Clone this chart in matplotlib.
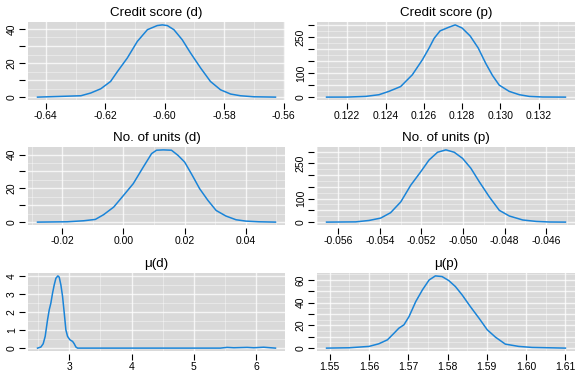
import numpy as np
import matplotlib
matplotlib.use('Agg')
import matplotlib.pyplot as plt
from matplotlib.ticker import FixedLocator, FixedFormatter, MultipleLocator

plt.rcParams['font.family'] = ['Liberation Sans', 'DejaVu Sans']
plt.rcParams['axes.unicode_minus'] = False

# posterior density curves
credit_d_x = [-0.6428, -0.6282, -0.6249, -0.6215, -0.6182, -0.6159, -0.6126, -0.6092, -0.6058, -0.6025,
              -0.6008, -0.5991, -0.5969, -0.5941, -0.5913, -0.5879, -0.5846, -0.5812, -0.5778, -0.5745,
              -0.5700, -0.5627]
credit_d_y = [0, 0.8, 2.4, 4.9, 9.2, 15.0, 22.9, 32.7, 39.6, 42.0,
              42.4, 42.0, 39.6, 33.7, 25.9, 17.1, 9.2, 4.3, 1.8, 0.8,
              0.2, 0]

credit_p_x = [0.12092, 0.1220, 0.12296, 0.12366, 0.12418, 0.12479, 0.1254, 0.12593, 0.12628, 0.12654,
              0.12685, 0.12727, 0.12764, 0.12800, 0.12842, 0.12884, 0.12924, 0.12959, 0.12994, 0.13046,
              0.13099, 0.13151, 0.13221, 0.13340]
credit_p_y = [0, 0.2, 3, 10, 24, 44, 93, 156, 205, 245,
              276, 290, 301, 288, 255, 205, 140, 90, 50, 24,
              10, 3, 0.5, 0]

units_d_x = [-0.0281, -0.0184, -0.0130, -0.0092, -0.0065, -0.0032, 0.0, 0.0032, 0.0065, 0.0092,
             0.0108, 0.0130, 0.0157, 0.0178, 0.0200, 0.0222, 0.0249, 0.0276, 0.0303, 0.0335,
             0.0368, 0.0400, 0.0443, 0.0497]
units_d_y = [0, 0.2, 0.8, 1.6, 4.4, 8.9, 15.8, 22.8, 32.7, 40.6,
             42.6, 42.8, 42.6, 39.6, 35.6, 28.7, 19.8, 12.9, 6.9, 3.6,
             1.4, 0.6, 0.2, 0]

units_p_x = [-0.05656, -0.05516, -0.05452, -0.05396, -0.05348, -0.05299, -0.05251, -0.05203, -0.05163, -0.05122,
             -0.05082, -0.05042, -0.05002, -0.04962, -0.04921, -0.04873, -0.04825, -0.04777, -0.04712, -0.04648,
             -0.04584, -0.04507]
units_p_y = [0, 1, 7, 17, 40, 86, 157, 214, 264, 297,
             307, 297, 271, 229, 171, 107, 50, 26, 9, 3,
             0.5, 0]

mu_d_x = [2.491, 2.545, 2.582, 2.614, 2.652, 2.679, 2.705, 2.732, 2.759, 2.786,
          2.818, 2.839, 2.866, 2.893, 2.920, 2.946, 2.973, 3.011, 3.054, 3.080,
          3.107, 3.134, 3.23, 5.426, 5.533, 5.64, 5.855, 5.962, 6.12, 6.23, 6.31]
mu_d_y = [0, 0.06, 0.24, 0.65, 1.57, 2.12, 2.49, 3.04, 3.50, 3.87,
          4.0, 3.93, 3.50, 2.86, 1.94, 1.01, 0.65, 0.46, 0.37, 0.24,
          0.06, 0, 0, 0, 0.04, 0.02, 0.04, 0.02, 0.05, 0.02, 0]

mu_p_x = [1.5492, 1.5549, 1.5600, 1.5625, 1.5647, 1.5664, 1.5676, 1.5689, 1.5702, 1.5719,
          1.5736, 1.5753, 1.5769, 1.5786, 1.5803, 1.5820, 1.5837, 1.5858, 1.5880, 1.5901,
          1.5922, 1.5947, 1.5981, 1.6015, 1.6058, 1.6100]
mu_p_y = [0, 0.3, 1.5, 3.8, 7.3, 13.2, 17.5, 20.5, 27.8, 40.9,
          51.2, 59.9, 63.5, 62.9, 59.4, 54.1, 46.8, 36.5, 26.3, 16.1,
          9.6, 3.5, 1.5, 0.6, 0.3, 0]

titles = ['Credit score (d)', 'Credit score (p)', 'No. of units (d)', 'No. of units (p)',
          'μ(d)', 'μ(p)']

# tick values and the labels R actually printed
xticks = [[-0.64, -0.62, -0.60, -0.58, -0.56],
          [0.122, 0.124, 0.126, 0.128, 0.130, 0.132],
          [-0.02, 0.00, 0.02, 0.04],
          [-0.056, -0.054, -0.052, -0.050, -0.048, -0.046],
          [3, 4, 5, 6],
          [1.55, 1.56, 1.57, 1.58, 1.59, 1.60, 1.61]]
xlabels = [['-0.64', '-0.62', '-0.60', '-0.58', '-0.56'],
           ['0.122', '0.124', '0.126', '0.128', '0.130', '0.132'],
           ['-0.02', '0.00', '0.02', '0.04'],
           ['-0.056', '-0.054', '-0.052', '-0.050', '-0.048', '-0.046'],
           ['3', '4', '5', '6'],
           ['1.55', '1.56', '1.57', '1.58', '1.59', '1.60', '1.61']]
yticks = [[0, 10, 20, 30, 40],
          [0, 50, 100, 150, 200, 250, 300],
          [0, 10, 20, 30, 40],
          [0, 50, 100, 150, 200, 250, 300],
          [0, 1, 2, 3, 4],
          [0, 10, 20, 30, 40, 50, 60]]
ylabels = [['0', '', '20', '', '40'],
           ['0', '', '100', '', '', '250', ''],
           ['0', '', '20', '', '40'],
           ['0', '', '100', '', '', '250', ''],
           ['0', '1', '2', '3', '4'],
           ['0', '', '20', '', '40', '', '60']]

curves = [(credit_d_x, credit_d_y), (credit_p_x, credit_p_y),
          (units_d_x, units_d_y), (units_p_x, units_p_y),
          (mu_d_x, mu_d_y), (mu_p_x, mu_p_y)]

W, H = 579, 379
fig = plt.figure(figsize=(W / 100, H / 100), dpi=100)
fig.patch.set_facecolor('white')

# panel boxes in pixels (left, top, right, bottom)
lefts = [28, 317]
rights = [285, 575]
tops = [22, 147, 273]
bottoms = [100, 225, 351]

line_col = '#1a84d8'

for i in range(6):
    r, c = i // 2, i % 2
    l, rt = lefts[c], rights[c]
    t, b = tops[r], bottoms[r]
    ax = fig.add_axes([l / W, 1 - b / H, (rt - l) / W, (b - t) / H])
    ax.set_facecolor('#d9d9d9')
    x, y = curves[i]
    ax.plot(x, y, color=line_col, lw=1.1, solid_joinstyle='round')
    ax.margins(x=0.04, y=0.04)

    ax.xaxis.set_major_locator(FixedLocator(xticks[i]))
    ax.xaxis.set_major_formatter(FixedFormatter(xlabels[i]))
    ax.yaxis.set_major_locator(FixedLocator(yticks[i]))
    ax.yaxis.set_major_formatter(FixedFormatter(ylabels[i]))
    xstep = xticks[i][1] - xticks[i][0]
    ystep = yticks[i][1] - yticks[i][0]
    ax.xaxis.set_minor_locator(MultipleLocator(xstep / 2))
    ax.yaxis.set_minor_locator(MultipleLocator(ystep / 2))

    ax.grid(which='major', color='white', lw=1.0, alpha=0.75)
    ax.grid(which='minor', color='white', lw=0.6, alpha=0.45)
    ax.set_axisbelow(True)

    for s in ax.spines.values():
        s.set_visible(False)
    ax.spines['left'].set_position(('outward', 2))
    ax.spines['bottom'].set_position(('outward', 2))

    ax.tick_params(which='major', length=4, width=0.8, color='black', labelsize=7.5, pad=2)
    ax.tick_params(which='minor', length=0)
    for lab in ax.get_yticklabels():
        lab.set_rotation(90)
        lab.set_va('center')

    ax.set_title(titles[i], fontsize=9.6, pad=4)

fig.savefig('out.png', dpi=100)
